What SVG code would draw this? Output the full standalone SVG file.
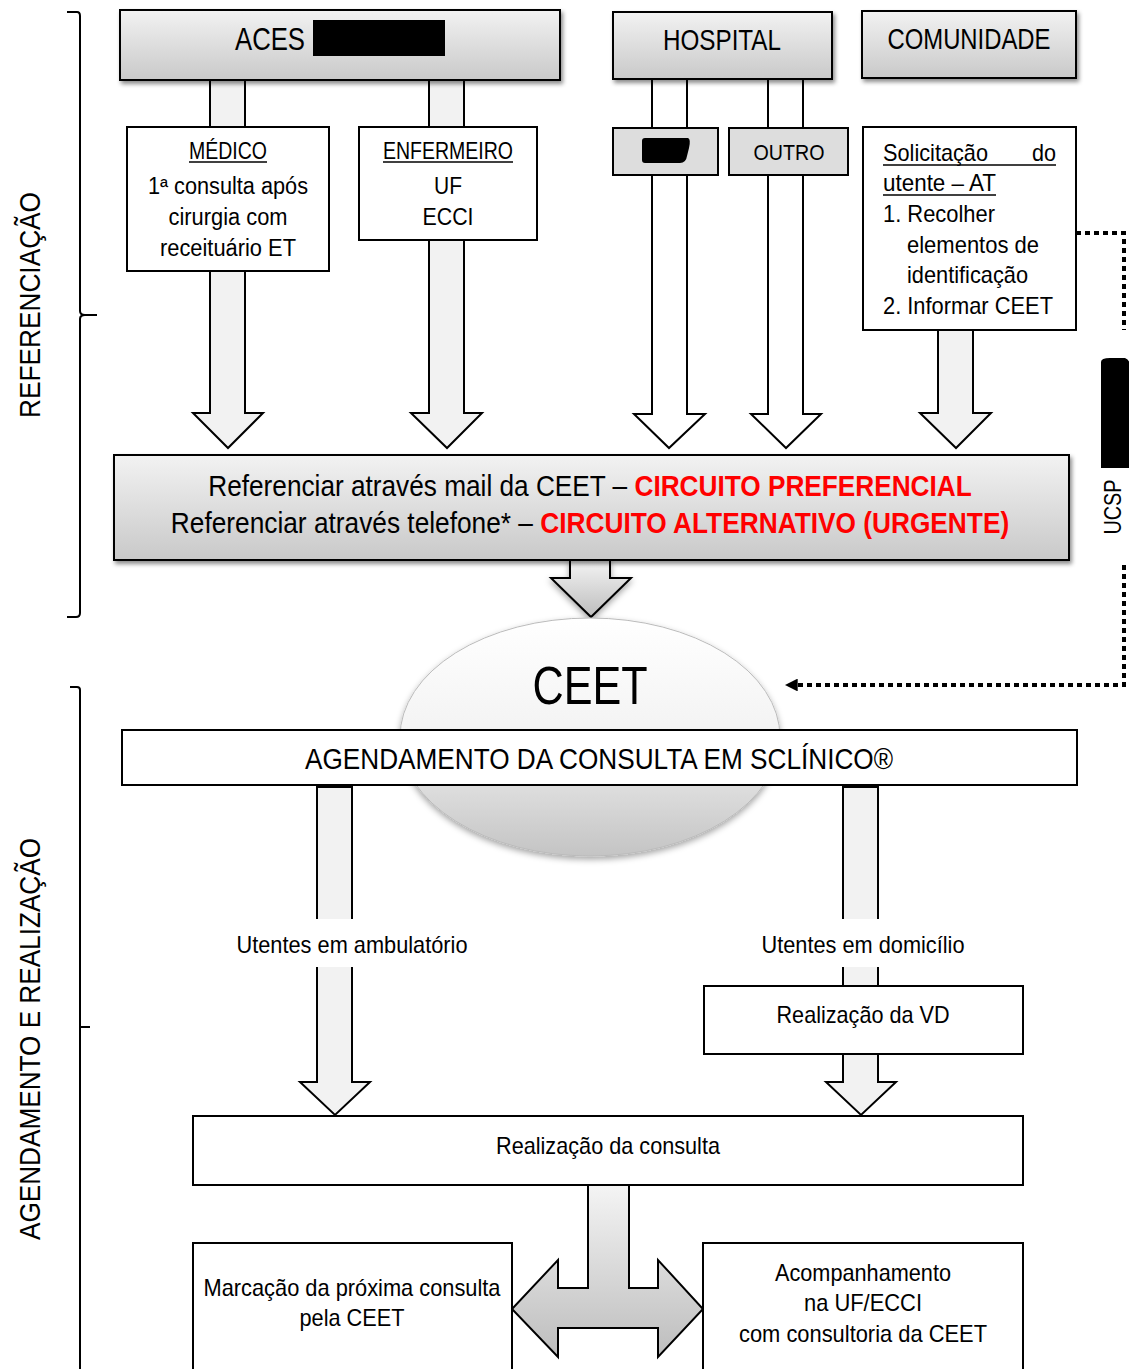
<svg xmlns="http://www.w3.org/2000/svg" width="1129" height="1369" viewBox="0 0 1129 1369">
<style>
text{font-family:"Liberation Sans",Arial,sans-serif;fill:#000}
.c{text-anchor:middle}
.box{fill:#fff;stroke:#000;stroke-width:2}
.gbox{fill:#ddd;stroke:#000;stroke-width:2}
.arr{fill:#f2f2f2;stroke:#000;stroke-width:2;stroke-linejoin:miter}
.warr{fill:#fff;stroke:#000;stroke-width:2}
.red{fill:#ff0000;font-weight:bold}
.dot{fill:none;stroke:#000;stroke-width:4;stroke-dasharray:5 4}
.br{fill:none;stroke:#000;stroke-width:2}
.ul{stroke:#000;stroke-width:1.5}
</style>
<defs>
<linearGradient id="hg" x1="0" y1="0" x2="0" y2="1"><stop offset="0" stop-color="#f2f2f2"/><stop offset="1" stop-color="#c9c9c9"/></linearGradient>
<linearGradient id="eg" x1="0" y1="0" x2="0" y2="1"><stop offset="0" stop-color="#ffffff"/><stop offset="0.45" stop-color="#f4f4f4"/><stop offset="1" stop-color="#c4c4c4"/></linearGradient>
<linearGradient id="ag" x1="0" y1="0" x2="0" y2="1"><stop offset="0" stop-color="#f4f4f4"/><stop offset="1" stop-color="#bdbdbd"/></linearGradient>
<filter id="sh" x="-10%" y="-10%" width="120%" height="130%"><feDropShadow dx="2" dy="3" stdDeviation="2" flood-color="#000" flood-opacity="0.45"/></filter>
<filter id="sh2" x="-10%" y="-10%" width="120%" height="130%"><feDropShadow dx="0" dy="3" stdDeviation="3" flood-color="#000" flood-opacity="0.35"/></filter>
<marker id="ah" viewBox="0 0 10 10" refX="6" refY="5" markerWidth="3.2" markerHeight="3.2" orient="auto"><path d="M0,0 L10,5 L0,10 z" fill="#000"/></marker>
</defs>

<!-- brackets -->
<g id="bracket-ref">
<path class="br" d="M67,12 L77,12 Q80,12 80,16 L80,311 Q80,315 85,315 L97,315 M85,315 Q80,315 80,319 L80,613 Q80,617 76,617 L67,617"/>
<text transform="translate(40,305) rotate(-90)" class="c" font-size="30" textLength="226" lengthAdjust="spacingAndGlyphs">REFERENCIAÇÃO</text>
</g>
<g id="bracket-ag">
<path class="br" d="M70,687 L77,687 Q80,687 80,690 L80,1369 M80,1027 L90,1027"/>
<text transform="translate(40,1039) rotate(-90)" class="c" font-size="30" textLength="402" lengthAdjust="spacingAndGlyphs">AGENDAMENTO E REALIZAÇÃO</text>
</g>

<!-- connectors -->
<g id="connectors">
<polygon class="arr" points="210,80 245,80 245,413 263,413 228,448 193,413 210,413"/>
<polygon class="arr" points="429,80 464,80 464,413 482,413 447,448 411,413 429,413"/>
<polygon class="warr" points="652,79 687,79 687,414 705,414 669,448 634,414 652,414"/>
<polygon class="warr" points="768,79 803,79 803,414 821,414 786,448 751,414 768,414"/>
<polygon class="arr" points="938,330 973,330 973,413 991,413 956,448 920,413 938,413"/>
<polygon fill="url(#ag)" stroke="#000" stroke-width="2" filter="url(#sh2)" points="570,560 610,560 610,578 631,578 591,617 551,578 570,578"/>
<path class="dot" d="M1076,233 L1124,233 L1124,330"/>
<path class="dot" d="M1124,565 L1124,685 L790,685" marker-end="url(#ah)"/>
<polygon class="arr" points="317,787 352,787 352,1082 370,1082 335,1115 300,1082 317,1082"/>
<polygon class="arr" points="843,787 878,787 878,1082 896,1082 861,1115 826,1082 843,1082"/>
<rect x="290" y="919" width="90" height="48" fill="#fff"/>
<rect x="820" y="919" width="90" height="48" fill="#fff"/>
<polygon fill="url(#ag)" stroke="#000" stroke-width="2" points="588,1185 629,1185 629,1288 658,1288 658,1260 703,1309 658,1357 658,1328 558,1328 558,1357 512,1309 558,1260 558,1288 588,1288"/>
</g>

<!-- UCSP label -->
<g id="ucsp">
<path d="M1101,362 Q1101,358 1110,358 L1125,358 Q1131,360 1129,368 L1129,468 L1101,468 Z" fill="#000"/>
<text transform="translate(1121,507) rotate(-90)" class="c" font-size="24" textLength="55" lengthAdjust="spacingAndGlyphs">UCSP</text>
</g>

<!-- headers -->
<g id="aces">
<rect x="120" y="10" width="440" height="70" fill="url(#hg)" stroke="#000" stroke-width="2" filter="url(#sh)"/>
<text x="235" y="50" font-size="32" textLength="70" lengthAdjust="spacingAndGlyphs">ACES</text>
<rect x="313" y="20" width="132" height="36" fill="#000"/>
</g>
<g id="hospital">
<rect x="613" y="12" width="219" height="67" fill="url(#hg)" stroke="#000" stroke-width="2" filter="url(#sh)"/>
<text x="722" y="50" class="c" font-size="30" textLength="118" lengthAdjust="spacingAndGlyphs">HOSPITAL</text>
</g>
<g id="comunidade">
<rect x="862" y="11" width="214" height="67" fill="url(#hg)" stroke="#000" stroke-width="2" filter="url(#sh)"/>
<text x="969" y="49" class="c" font-size="30" textLength="163" lengthAdjust="spacingAndGlyphs">COMUNIDADE</text>
</g>

<g id="medico">
<rect class="box" x="127" y="127" width="202" height="144"/>
<text x="228" y="159" class="c" font-size="23" textLength="78" lengthAdjust="spacingAndGlyphs">MÉDICO</text>
<line class="ul" x1="189" y1="162" x2="267" y2="162"/>
<text x="228" y="194" class="c" font-size="23" textLength="160" lengthAdjust="spacingAndGlyphs">1ª consulta após</text>
<text x="228" y="225" class="c" font-size="23" textLength="119" lengthAdjust="spacingAndGlyphs">cirurgia com</text>
<text x="228" y="256" class="c" font-size="23" textLength="136" lengthAdjust="spacingAndGlyphs">receituário ET</text>
</g>
<g id="enfermeiro">
<rect class="box" x="359" y="127" width="178" height="113"/>
<text x="448" y="159" class="c" font-size="23" textLength="130" lengthAdjust="spacingAndGlyphs">ENFERMEIRO</text>
<line class="ul" x1="383" y1="162" x2="513" y2="162"/>
<text x="448" y="194" class="c" font-size="23" textLength="28" lengthAdjust="spacingAndGlyphs">UF</text>
<text x="448" y="225" class="c" font-size="23" textLength="51" lengthAdjust="spacingAndGlyphs">ECCI</text>
</g>
<g id="hosp-redacted">
<rect class="gbox" x="613" y="128" width="105" height="47"/>
<path d="M645,138 L688,138 Q691,139 689,148 L687,156 Q686,163 680,163 L645,163 Q642,163 642,160 L642,141 Q642,138 645,138 Z" fill="#000"/>
</g>
<g id="outro">
<rect class="gbox" x="729" y="128" width="119" height="47"/>
<text x="789" y="160" class="c" font-size="22" textLength="71" lengthAdjust="spacingAndGlyphs">OUTRO</text>
</g>
<g id="solicitacao">
<rect class="box" x="863" y="127" width="213" height="203"/>
<text x="883" y="161" font-size="24" textLength="105" lengthAdjust="spacingAndGlyphs">Solicitação</text>
<text x="1032" y="161" font-size="24" textLength="24" lengthAdjust="spacingAndGlyphs">do</text>
<line class="ul" x1="883" y1="165" x2="1056" y2="165"/>
<text x="883" y="191" font-size="24" textLength="113" lengthAdjust="spacingAndGlyphs">utente – AT</text>
<line class="ul" x1="883" y1="195" x2="996" y2="195"/>
<text x="883" y="222" font-size="24" textLength="112" lengthAdjust="spacingAndGlyphs">1. Recolher</text>
<text x="907" y="253" font-size="24" textLength="132" lengthAdjust="spacingAndGlyphs">elementos de</text>
<text x="907" y="283" font-size="24" textLength="121" lengthAdjust="spacingAndGlyphs">identificação</text>
<text x="883" y="314" font-size="24" textLength="170" lengthAdjust="spacingAndGlyphs">2. Informar CEET</text>
</g>

<g id="referenciar">
<rect x="114" y="455" width="955" height="105" fill="url(#hg)" stroke="#000" stroke-width="2" filter="url(#sh)"/>
<text transform="translate(590,496) scale(0.874,1)" class="c" font-size="30">Referenciar através mail da CEET – <tspan class="red">CIRCUITO PREFERENCIAL</tspan></text>
<text transform="translate(590,533) scale(0.876,1)" class="c" font-size="30">Referenciar através telefone* – <tspan class="red">CIRCUITO ALTERNATIVO (URGENTE)</tspan></text>
</g>

<g id="ceet">
<ellipse cx="590" cy="737" rx="190" ry="119" fill="url(#eg)" stroke="#bbb" stroke-width="1" filter="url(#sh2)"/>
<text x="590" y="704" class="c" font-size="54" textLength="115" lengthAdjust="spacingAndGlyphs">CEET</text>
</g>
<g id="agendamento">
<rect class="box" x="122" y="730" width="955" height="55"/>
<text x="599" y="769" class="c" font-size="29" textLength="588" lengthAdjust="spacingAndGlyphs">AGENDAMENTO DA CONSULTA EM SCLÍNICO®</text>
</g>

<g id="lbl-ambulatorio"><text x="352" y="953" class="c" font-size="24" textLength="231" lengthAdjust="spacingAndGlyphs">Utentes em ambulatório</text></g>
<g id="lbl-domicilio"><text x="863" y="953" class="c" font-size="24" textLength="203" lengthAdjust="spacingAndGlyphs">Utentes em domicílio</text></g>

<g id="vd">
<rect class="box" x="704" y="986" width="319" height="68"/>
<text x="863" y="1023" class="c" font-size="24" textLength="173" lengthAdjust="spacingAndGlyphs">Realização da VD</text>
</g>
<g id="consulta">
<rect class="box" x="193" y="1116" width="830" height="69"/>
<text x="608" y="1154" class="c" font-size="24" textLength="224" lengthAdjust="spacingAndGlyphs">Realização da consulta</text>
</g>
<g id="marcacao">
<rect class="box" x="193" y="1243" width="319" height="130"/>
<text x="352" y="1296" class="c" font-size="24" textLength="297" lengthAdjust="spacingAndGlyphs">Marcação da próxima consulta</text>
<text x="352" y="1326" class="c" font-size="24" textLength="105" lengthAdjust="spacingAndGlyphs">pela CEET</text>
</g>
<g id="acompanhamento">
<rect class="box" x="703" y="1243" width="320" height="130"/>
<text x="863" y="1281" class="c" font-size="24" textLength="176" lengthAdjust="spacingAndGlyphs">Acompanhamento</text>
<text x="863" y="1311" class="c" font-size="24" textLength="118" lengthAdjust="spacingAndGlyphs">na UF/ECCI</text>
<text x="863" y="1342" class="c" font-size="24" textLength="248" lengthAdjust="spacingAndGlyphs">com consultoria da CEET</text>
</g>
</svg>
